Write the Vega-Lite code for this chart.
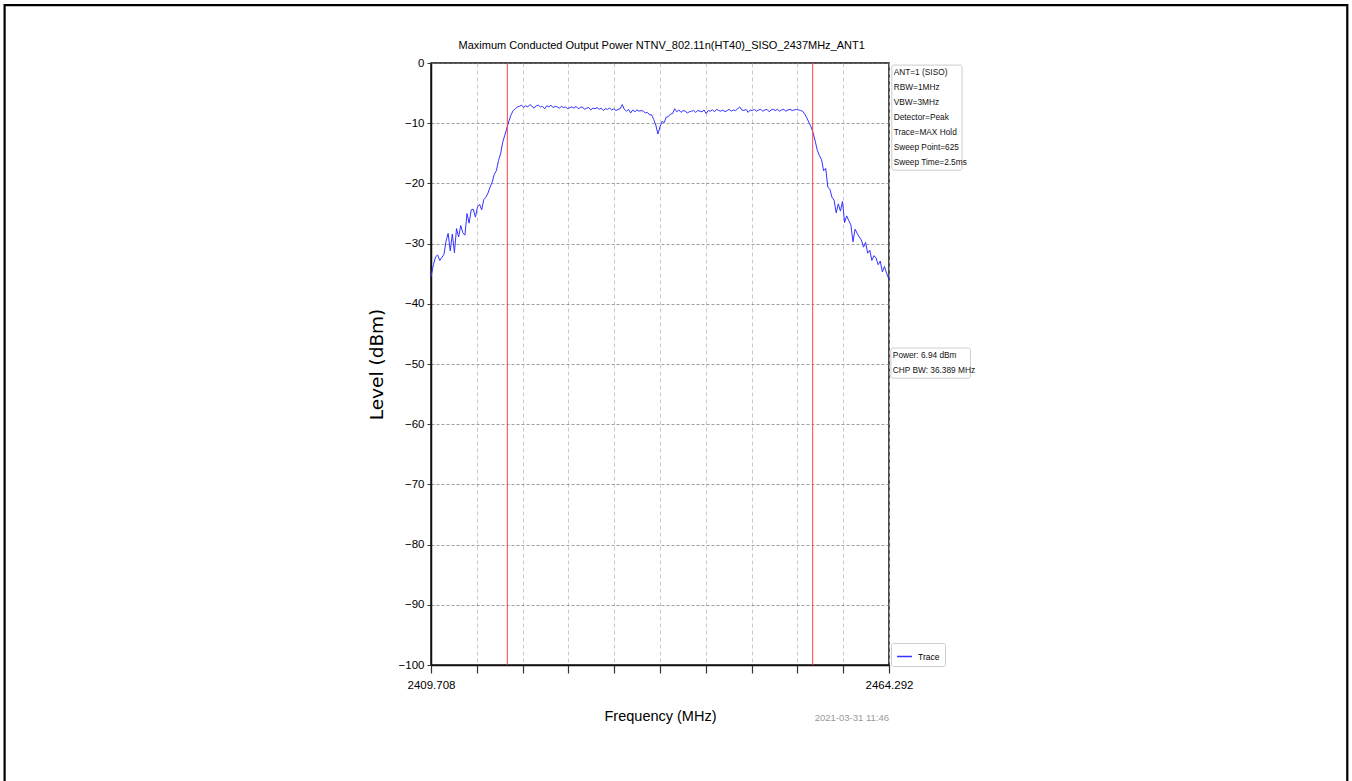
{
  "$schema": "https://vega.github.io/schema/vega-lite/v6.json",
  "autosize": {"type": "none"},
  "width": 458,
  "height": 602,
  "padding": {"left": 431, "top": 63, "right": 463, "bottom": 116},
  "background": "white",
  "config": {
    "view": {"stroke": "#111111", "strokeWidth": 1.5},
    "axis": {
      "labelFont": "Liberation Sans",
      "labelFontSize": 11.5,
      "labelColor": "#000000",
      "domainColor": "#111111",
      "domainWidth": 1.5,
      "tickColor": "#333333"
    }
  },
  "datasets": {
    "trace": [
      {"freq": 2409.708, "level": -35.5}, {"freq": 2410.0, "level": -33.5}, {"freq": 2410.25, "level": -32.2}, {"freq": 2410.5, "level": -31.9},
      {"freq": 2410.75, "level": -32.8}, {"freq": 2411.0, "level": -32.3}, {"freq": 2411.25, "level": -31.8}, {"freq": 2411.5, "level": -29.6},
      {"freq": 2411.75, "level": -28.3}, {"freq": 2412.0, "level": -31.2}, {"freq": 2412.25, "level": -28.4}, {"freq": 2412.5, "level": -31.5},
      {"freq": 2412.75, "level": -27.5}, {"freq": 2413.0, "level": -28.9}, {"freq": 2413.25, "level": -27.0}, {"freq": 2413.5, "level": -28.2},
      {"freq": 2413.75, "level": -28.6}, {"freq": 2414.0, "level": -25.0}, {"freq": 2414.25, "level": -26.6}, {"freq": 2414.5, "level": -24.4},
      {"freq": 2414.75, "level": -24.3}, {"freq": 2415.0, "level": -25.6}, {"freq": 2415.25, "level": -23.9}, {"freq": 2415.5, "level": -23.5},
      {"freq": 2415.75, "level": -24.4}, {"freq": 2416.0, "level": -22.7}, {"freq": 2416.25, "level": -22.3}, {"freq": 2416.5, "level": -21.6},
      {"freq": 2416.75, "level": -20.6}, {"freq": 2417.0, "level": -19.8}, {"freq": 2417.25, "level": -18.5}, {"freq": 2417.5, "level": -17.9},
      {"freq": 2417.75, "level": -16.2}, {"freq": 2418.0, "level": -15.1}, {"freq": 2418.25, "level": -13.2}, {"freq": 2418.5, "level": -12.0},
      {"freq": 2418.75, "level": -10.8}, {"freq": 2419.0, "level": -9.6}, {"freq": 2419.25, "level": -8.6}, {"freq": 2419.5, "level": -7.9},
      {"freq": 2419.75, "level": -7.6}, {"freq": 2420.0, "level": -7.3},
      {"freq": 2420.25, "level": -7.2}, {"freq": 2420.5, "level": -7.0}, {"freq": 2420.75, "level": -7.4}, {"freq": 2421.0, "level": -7.1},
      {"freq": 2421.25, "level": -7.3}, {"freq": 2421.5, "level": -6.9}, {"freq": 2421.75, "level": -7.2}, {"freq": 2422.0, "level": -7.5},
      {"freq": 2422.25, "level": -7.1}, {"freq": 2422.5, "level": -7.0}, {"freq": 2422.75, "level": -7.3}, {"freq": 2423.0, "level": -7.2},
      {"freq": 2423.25, "level": -7.6}, {"freq": 2423.5, "level": -7.1}, {"freq": 2423.75, "level": -7.3}, {"freq": 2424.0, "level": -7.0},
      {"freq": 2424.25, "level": -7.4}, {"freq": 2424.5, "level": -7.2}, {"freq": 2424.75, "level": -7.3}, {"freq": 2425.0, "level": -7.5},
      {"freq": 2425.25, "level": -7.2}, {"freq": 2425.5, "level": -7.4}, {"freq": 2425.75, "level": -7.3}, {"freq": 2426.0, "level": -7.6},
      {"freq": 2426.25, "level": -7.4}, {"freq": 2426.5, "level": -7.3}, {"freq": 2426.75, "level": -7.5}, {"freq": 2427.0, "level": -7.2},
      {"freq": 2427.25, "level": -7.6}, {"freq": 2427.5, "level": -7.4}, {"freq": 2427.75, "level": -7.3}, {"freq": 2428.0, "level": -7.7},
      {"freq": 2428.25, "level": -7.5}, {"freq": 2428.5, "level": -7.4}, {"freq": 2428.75, "level": -7.8}, {"freq": 2429.0, "level": -7.5},
      {"freq": 2429.25, "level": -7.6}, {"freq": 2429.5, "level": -7.4}, {"freq": 2429.75, "level": -7.7}, {"freq": 2430.0, "level": -7.5},
      {"freq": 2430.25, "level": -7.9}, {"freq": 2430.5, "level": -7.6}, {"freq": 2430.75, "level": -7.7}, {"freq": 2431.0, "level": -7.5},
      {"freq": 2431.25, "level": -7.8}, {"freq": 2431.5, "level": -7.6}, {"freq": 2431.75, "level": -7.9}, {"freq": 2432.0, "level": -7.7},
      {"freq": 2432.25, "level": -7.6}, {"freq": 2432.5, "level": -6.9}, {"freq": 2432.75, "level": -7.7}, {"freq": 2433.0, "level": -8.0},
      {"freq": 2433.25, "level": -7.7}, {"freq": 2433.5, "level": -8.3}, {"freq": 2433.75, "level": -7.8}, {"freq": 2434.0, "level": -8.1},
      {"freq": 2434.25, "level": -7.8}, {"freq": 2434.5, "level": -8.0}, {"freq": 2434.75, "level": -7.9}, {"freq": 2435.0, "level": -8.0},
      {"freq": 2435.25, "level": -8.3}, {"freq": 2435.5, "level": -8.2}, {"freq": 2435.75, "level": -8.6}, {"freq": 2436.0, "level": -8.6},
      {"freq": 2436.25, "level": -9.4}, {"freq": 2436.5, "level": -10.3}, {"freq": 2436.75, "level": -11.8}, {"freq": 2437.0, "level": -10.6},
      {"freq": 2437.25, "level": -9.7}, {"freq": 2437.5, "level": -9.9}, {"freq": 2437.75, "level": -9.0}, {"freq": 2438.0, "level": -8.9},
      {"freq": 2438.25, "level": -8.5}, {"freq": 2438.5, "level": -8.4}, {"freq": 2438.75, "level": -7.6}, {"freq": 2439.0, "level": -8.1},
      {"freq": 2439.25, "level": -7.8}, {"freq": 2439.5, "level": -8.2}, {"freq": 2439.75, "level": -7.9}, {"freq": 2440.0, "level": -8.0},
      {"freq": 2440.25, "level": -8.3}, {"freq": 2440.5, "level": -8.1}, {"freq": 2440.75, "level": -8.0}, {"freq": 2441.0, "level": -7.9},
      {"freq": 2441.25, "level": -8.2}, {"freq": 2441.5, "level": -7.9}, {"freq": 2441.75, "level": -8.0}, {"freq": 2442.0, "level": -8.1},
      {"freq": 2442.25, "level": -7.8}, {"freq": 2442.5, "level": -8.4}, {"freq": 2442.75, "level": -7.9}, {"freq": 2443.0, "level": -8.0},
      {"freq": 2443.25, "level": -7.8}, {"freq": 2443.5, "level": -8.1}, {"freq": 2443.75, "level": -7.7}, {"freq": 2444.0, "level": -7.9},
      {"freq": 2444.25, "level": -8.0}, {"freq": 2444.5, "level": -7.8}, {"freq": 2444.75, "level": -8.1}, {"freq": 2445.0, "level": -7.9},
      {"freq": 2445.25, "level": -7.7}, {"freq": 2445.5, "level": -8.0}, {"freq": 2445.75, "level": -7.8}, {"freq": 2446.0, "level": -7.9},
      {"freq": 2446.25, "level": -7.6}, {"freq": 2446.5, "level": -7.3}, {"freq": 2446.75, "level": -7.8}, {"freq": 2447.0, "level": -7.9},
      {"freq": 2447.25, "level": -7.7}, {"freq": 2447.5, "level": -8.2}, {"freq": 2447.75, "level": -7.8}, {"freq": 2448.0, "level": -7.9},
      {"freq": 2448.25, "level": -7.7}, {"freq": 2448.5, "level": -8.0}, {"freq": 2448.75, "level": -7.8}, {"freq": 2449.0, "level": -7.7},
      {"freq": 2449.25, "level": -8.0}, {"freq": 2449.5, "level": -7.8}, {"freq": 2449.75, "level": -7.7}, {"freq": 2450.0, "level": -8.1},
      {"freq": 2450.25, "level": -7.8}, {"freq": 2450.5, "level": -7.7}, {"freq": 2450.75, "level": -7.9}, {"freq": 2451.0, "level": -7.7},
      {"freq": 2451.25, "level": -8.0}, {"freq": 2451.5, "level": -7.8}, {"freq": 2451.75, "level": -7.7}, {"freq": 2452.0, "level": -8.0},
      {"freq": 2452.25, "level": -7.8}, {"freq": 2452.5, "level": -7.7}, {"freq": 2452.75, "level": -7.9}, {"freq": 2453.0, "level": -7.8},
      {"freq": 2453.25, "level": -7.7}, {"freq": 2453.5, "level": -7.8}, {"freq": 2453.75, "level": -7.9}, {"freq": 2454.0, "level": -8.0},
      {"freq": 2454.25, "level": -8.5}, {"freq": 2454.5, "level": -9.1}, {"freq": 2454.75, "level": -9.9}, {"freq": 2455.0, "level": -10.6},
      {"freq": 2455.25, "level": -11.6}, {"freq": 2455.5, "level": -13.0}, {"freq": 2455.75, "level": -14.5}, {"freq": 2456.0, "level": -15.4},
      {"freq": 2456.25, "level": -16.0}, {"freq": 2456.5, "level": -17.9}, {"freq": 2456.75, "level": -17.5}, {"freq": 2457.0, "level": -20.6},
      {"freq": 2457.25, "level": -21.0}, {"freq": 2457.5, "level": -22.3}, {"freq": 2457.75, "level": -22.8}, {"freq": 2458.0, "level": -24.9},
      {"freq": 2458.25, "level": -23.4}, {"freq": 2458.5, "level": -24.6}, {"freq": 2458.75, "level": -23.0}, {"freq": 2459.0, "level": -26.5},
      {"freq": 2459.25, "level": -25.4}, {"freq": 2459.5, "level": -26.2}, {"freq": 2459.75, "level": -26.9}, {"freq": 2460.0, "level": -29.7},
      {"freq": 2460.25, "level": -27.6}, {"freq": 2460.5, "level": -28.3}, {"freq": 2460.75, "level": -28.9}, {"freq": 2461.0, "level": -29.4},
      {"freq": 2461.25, "level": -30.6}, {"freq": 2461.5, "level": -29.8}, {"freq": 2461.75, "level": -31.6}, {"freq": 2462.0, "level": -31.1},
      {"freq": 2462.25, "level": -32.8}, {"freq": 2462.5, "level": -32.0}, {"freq": 2462.75, "level": -32.4}, {"freq": 2463.0, "level": -33.5},
      {"freq": 2463.25, "level": -32.9}, {"freq": 2463.5, "level": -34.7}, {"freq": 2463.75, "level": -33.8}, {"freq": 2464.0, "level": -34.9},
      {"freq": 2464.25, "level": -35.8}, {"freq": 2464.292, "level": -35.5}
    ],
    "limits": [{"freq": 2418.806}, {"freq": 2455.194}],
    "one": [{}]
  },
  "layer": [
    {
      "data": {"name": "one"},
      "mark": {"type": "rect", "fill": null, "stroke": "#000000", "strokeWidth": 2.2, "clip": false},
      "encoding": {
        "x": {"datum": 2358.89, "type": "quantitative", "scale": {"domain": [2409.708, 2464.292], "nice": false, "zero": false}},
        "x2": {"datum": 2518.91},
        "y": {"datum": 9.63, "type": "quantitative", "scale": {"domain": [-100, 0], "nice": false, "zero": false}},
        "y2": {"datum": -130}
      }
    },
    {
      "data": {"name": "one"},
      "mark": {"type": "text", "align": "center", "baseline": "middle", "font": "Liberation Sans", "fontSize": 11, "color": "#000000", "clip": false},
      "encoding": {
        "x": {"datum": 2437.2, "type": "quantitative"},
        "y": {"datum": 2.85, "type": "quantitative"},
        "text": {"value": "Maximum Conducted Output Power NTNV_802.11n(HT40)_SISO_2437MHz_ANT1"}
      }
    },
    {
      "data": {"name": "trace"},
      "mark": {"type": "line", "strokeWidth": 1, "interpolate": "linear"},
      "encoding": {
        "x": {
          "field": "freq", "type": "quantitative",
          "scale": {"domain": [2409.708, 2464.292], "nice": false, "zero": false},
          "axis": {
            "title": "Frequency (MHz)",
            "titleFont": "Liberation Sans",
            "titleFontSize": 14.5,
            "titleFontWeight": "normal",
            "titleColor": "#000000",
            "titlePadding": 19,
            "values": [2409.708, 2415.1664, 2420.6248, 2426.0832, 2431.5416, 2437.0, 2442.4584, 2447.9168, 2453.3752, 2458.8336, 2464.292],
            "labelExpr": "(datum.value < 2410 || datum.value > 2464) ? format(datum.value, '.3f') : ''",
            "labelFlush": false,
            "labelOverlap": false,
            "tickSize": 8,
            "tickWidth": 1.2,
            "labelPadding": 6,
            "grid": true,
            "gridColor": "#bbbbbb",
            "gridDash": [4, 3],
            "gridWidth": 0.8
          }
        },
        "y": {
          "field": "level", "type": "quantitative",
          "scale": {"domain": [-100, 0], "nice": false, "zero": false},
          "axis": {
            "title": "Level (dBm)",
            "titleFont": "DejaVu Sans",
            "titleFontSize": 18.5,
            "titleFontWeight": "normal",
            "titleColor": "#000000",
            "titlePadding": 12,
            "values": [0, -10, -20, -30, -40, -50, -60, -70, -80, -90, -100],
            "tickSize": 4,
            "labelPadding": 3,
            "grid": true,
            "gridColor": "#777777",
            "gridDash": [3, 2],
            "gridWidth": 0.7
          }
        },
        "color": {
          "datum": "Trace",
          "type": "nominal",
          "scale": {"range": ["#3333ff"]},
          "legend": {
            "title": null,
            "orient": "none",
            "legendX": 460,
            "legendY": 580,
            "symbolType": "stroke",
            "symbolStrokeWidth": 1.5,
            "symbolSize": 220,
            "labelFont": "Liberation Sans",
            "labelFontSize": 8.5,
            "labelOffset": 5,
            "labelColor": "#000000",
            "fillColor": "white",
            "strokeColor": "#cccccc",
            "padding": 5,
            "cornerRadius": 2
          }
        }
      }
    },
    {
      "data": {"name": "limits"},
      "mark": {"type": "rule", "color": "#ff4444", "strokeWidth": 1},
      "encoding": {"x": {"field": "freq", "type": "quantitative"}}
    },
    {
      "data": {"name": "one"},
      "mark": {"type": "rect", "fill": "white", "stroke": "#cccccc", "strokeWidth": 1, "cornerRadius": 2, "clip": false},
      "encoding": {
        "x": {"datum": 2464.63, "type": "quantitative"},
        "x2": {"datum": 2473.0},
        "y": {"datum": -0.35, "type": "quantitative"},
        "y2": {"datum": -17.8}
      }
    },
    {
      "data": {"name": "one"},
      "mark": {"type": "text", "align": "left", "baseline": "top", "font": "Liberation Sans", "fontSize": 8.3, "lineHeight": 15, "color": "#111111", "clip": false},
      "encoding": {
        "x": {"datum": 2464.85, "type": "quantitative"},
        "y": {"datum": -0.8, "type": "quantitative"},
        "text": {"value": ["ANT=1 (SISO)", "RBW=1MHz", "VBW=3MHz", "Detector=Peak", "Trace=MAX Hold", "Sweep Point=625", "Sweep Time=2.5ms"]}
      }
    },
    {
      "data": {"name": "one"},
      "mark": {"type": "rect", "fill": "white", "stroke": "#cccccc", "strokeWidth": 1, "cornerRadius": 2, "clip": false},
      "encoding": {
        "x": {"datum": 2464.52, "type": "quantitative"},
        "x2": {"datum": 2474.0},
        "y": {"datum": -47.35, "type": "quantitative"},
        "y2": {"datum": -52.35}
      }
    },
    {
      "data": {"name": "one"},
      "mark": {"type": "text", "align": "left", "baseline": "top", "font": "Liberation Sans", "fontSize": 8.3, "lineHeight": 15, "color": "#111111", "clip": false},
      "encoding": {
        "x": {"datum": 2464.75, "type": "quantitative"},
        "y": {"datum": -47.8, "type": "quantitative"},
        "text": {"value": ["Power: 6.94 dBm", "CHP BW: 36.389 MHz"]}
      }
    },
    {
      "data": {"name": "one"},
      "mark": {"type": "text", "align": "right", "baseline": "middle", "font": "Liberation Sans", "fontSize": 9.5, "color": "#999999", "clip": false},
      "encoding": {
        "x": {"datum": 2464.292, "type": "quantitative"},
        "y": {"datum": -108.8, "type": "quantitative"},
        "text": {"value": "2021-03-31 11:46"}
      }
    }
  ]
}
